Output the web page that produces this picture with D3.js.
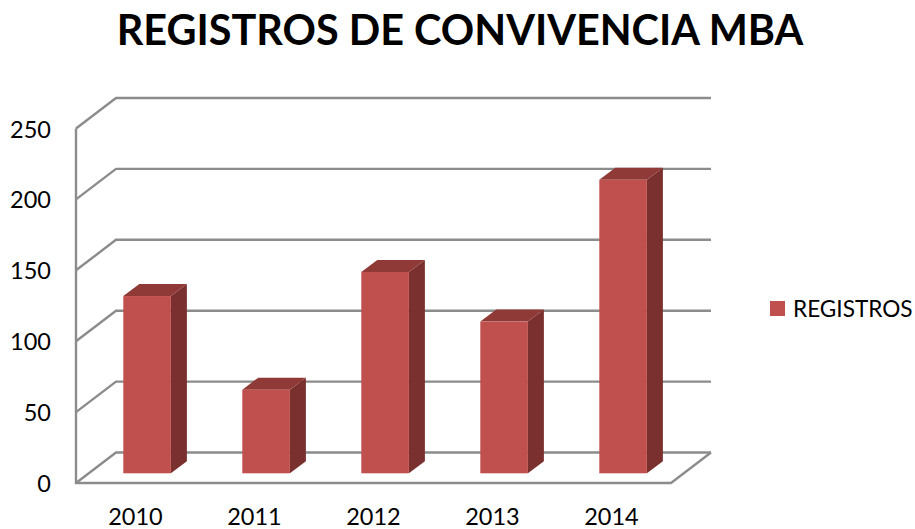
<!DOCTYPE html>
<html>
<head>
<meta charset="utf-8">
<script src="https://cdn.jsdelivr.net/npm/d3@7"></script>
<style>
  html, body { margin: 0; padding: 0; background: #fff; }
  svg { display: block; }
  text { font-family: Lato, "Open Sans", sans-serif; fill: #000; }
</style>
</head>
<body>
<div id="chart"></div>
<script>
var years = ["2010", "2011", "2012", "2013", "2014"];
var registros = [125, 59, 142, 107, 207];
var yTicks = [0, 50, 100, 150, 200, 250];
var seriesName = "REGISTROS";
var chartTitle = "REGISTROS DE CONVIVENCIA MBA";

var svgWidth = 915;
var svgHeight = 529;

// front plane of the 3d box
var plot = { left: 76, right: 671, top: 128.5, bottom: 483 };
var wallDx = 40, wallDy = -30.5; // floor depth
var barOffX = 11.6, barOffY = -9.7; // bars stand a bit inside the floor
var barDx = 16, barDy = -12; // depth of each bar

var svg = d3
  .select("#chart")
  .append("svg")
  .attr("width", svgWidth)
  .attr("height", svgHeight);

var x = d3
  .scaleBand()
  .domain(years)
  .range([plot.left, plot.right])
  .paddingInner(0.6)
  .paddingOuter(0.3);

var y = d3.scaleLinear().domain([0, 250]).range([plot.bottom, plot.top]);

function pts(list) {
  return list.map(function (p) { return p.join(","); }).join(" ");
}

// walls and gridlines
var grid = svg.append("g").attr("fill", "none").attr("stroke", "#8c8c8c").attr("stroke-width", 2.4);

grid
  .selectAll("polyline.gridline")
  .data(yTicks)
  .enter()
  .append("polyline")
  .attr("class", "gridline")
  .attr("points", function (d) {
    return pts([
      [plot.left, y(d)],
      [plot.left + wallDx, y(d) + wallDy],
      [plot.right + wallDx, y(d) + wallDy]
    ]);
  });

grid
  .append("polyline")
  .attr("points", pts([
    [plot.left, y(250)],
    [plot.left, y(0)],
    [plot.right, y(0)],
    [plot.right + wallDx, y(0) + wallDy]
  ]));

// bars
var bars = svg
  .selectAll("g.bar")
  .data(registros)
  .enter()
  .append("g")
  .attr("class", "bar");

function barBox(d, i) {
  var x0 = x(years[i]) + barOffX;
  return { x0: x0, x1: x0 + x.bandwidth(), y0: y(0) + barOffY, y1: y(d) + barOffY };
}

// side face
bars
  .append("polygon")
  .attr("fill", "#7a302e")
  .attr("points", function (d, i) {
    var b = barBox(d, i);
    return pts([
      [b.x1, b.y0],
      [b.x1 + barDx, b.y0 + barDy],
      [b.x1 + barDx, b.y1 + barDy],
      [b.x1, b.y1]
    ]);
  });

// top face
bars
  .append("polygon")
  .attr("fill", "#8f3a37")
  .attr("points", function (d, i) {
    var b = barBox(d, i);
    return pts([
      [b.x0, b.y1],
      [b.x0 + barDx, b.y1 + barDy],
      [b.x1 + barDx, b.y1 + barDy],
      [b.x1, b.y1]
    ]);
  });

// front face
bars
  .append("rect")
  .attr("fill", "#c0504d")
  .attr("x", function (d, i) { return barBox(d, i).x0; })
  .attr("y", function (d, i) { return barBox(d, i).y1; })
  .attr("width", x.bandwidth())
  .attr("height", function (d, i) { var b = barBox(d, i); return b.y0 - b.y1; });

// axes
var yAxis = d3.axisLeft(y).tickValues(yTicks).tickSize(0).tickPadding(25);
var yAxisG = svg.append("g").attr("transform", "translate(" + plot.left + ",1)").call(yAxis);
yAxisG.select(".domain").remove();
yAxisG.selectAll("text").style("font-size", "23.5px");

var xAxis = d3.axisBottom(x).tickSize(0).tickPadding(25);
var xAxisG = svg.append("g").attr("transform", "translate(0," + plot.bottom + ")").call(xAxis);
xAxisG.select(".domain").remove();
xAxisG.selectAll("text").style("font-size", "23.5px");

// legend
var legend = svg.append("g").attr("transform", "translate(770,301)");
legend.append("rect").attr("width", 15).attr("height", 15).attr("fill", "#c0504d");
legend
  .append("text")
  .attr("x", 23)
  .attr("y", 16)
  .style("font-size", "22.6px")
  .text(seriesName);

// title
svg
  .append("text")
  .attr("x", 460)
  .attr("y", 45)
  .attr("text-anchor", "middle")
  .style("font-size", "41.4px")
  .style("font-weight", "bold")
  .text(chartTitle);
</script>
</body>
</html>
